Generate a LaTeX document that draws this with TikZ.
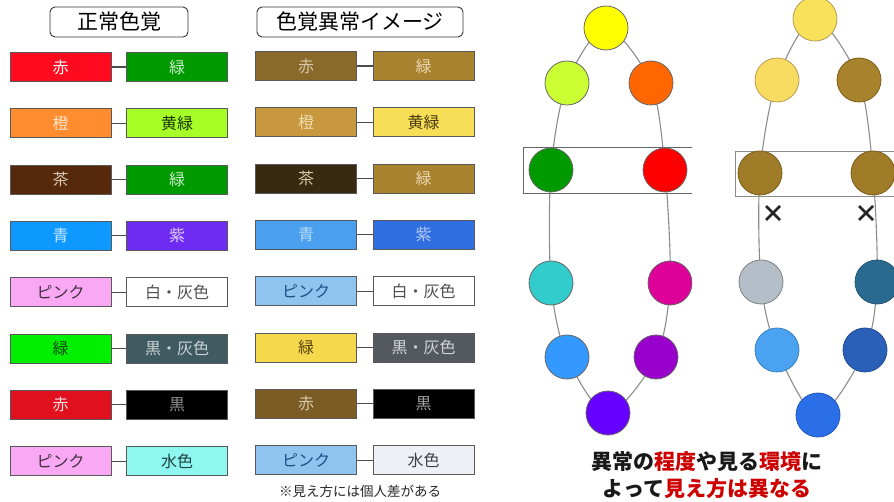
\documentclass[tikz,border=0pt]{standalone}
\usepackage{fontspec}
\setmainfont{Noto Sans CJK JP}
% box fills and text colours, left column (normal vision)
\definecolor{aRed}{HTML}{FF0A1E}\definecolor{aGreen}{HTML}{009A00}
\definecolor{aOrange}{HTML}{FF8C2E}\definecolor{aYG}{HTML}{A6FF26}
\definecolor{aBrown}{HTML}{55290A}\definecolor{aBlue}{HTML}{0D99FF}
\definecolor{aPurple}{HTML}{6E2CF2}\definecolor{aPink}{HTML}{F9A8F4}
\definecolor{aLime}{HTML}{00F000}\definecolor{aSlate}{HTML}{3F5A60}
\definecolor{aRed2}{HTML}{E0101E}\definecolor{aAqua}{HTML}{8EF8F0}
\definecolor{tGreenL}{HTML}{C8EEC8}\definecolor{tOrangeL}{HTML}{FFE6CC}
\definecolor{tDarkG}{HTML}{1A3300}\definecolor{tBrownL}{HTML}{D8C8B8}
\definecolor{tBlueL}{HTML}{CCE8FF}\definecolor{tPurpL}{HTML}{E0D0FF}
\definecolor{tPinkD}{HTML}{403040}\definecolor{tGray}{HTML}{505050}
\definecolor{tLimeD}{HTML}{0A4A0A}\definecolor{tSlateL}{HTML}{C8D0D4}
\definecolor{tRedL}{HTML}{FFE0E0}\definecolor{tBlackL}{HTML}{909090}
\definecolor{tAquaD}{HTML}{204040}
% right column (simulation)
\definecolor{bOlive}{HTML}{8A6A2A}\definecolor{bGold}{HTML}{A8822E}
\definecolor{bTan}{HTML}{C8983E}\definecolor{bYellow}{HTML}{F6DE56}
\definecolor{bDark}{HTML}{382A10}\definecolor{bBlue}{HTML}{4AA0EE}
\definecolor{bBlue2}{HTML}{2E6EE0}\definecolor{bSky}{HTML}{8EC4EE}
\definecolor{bYellow2}{HTML}{F6D84C}\definecolor{bSlate}{HTML}{54585F}
\definecolor{bOlive2}{HTML}{7A5C24}\definecolor{bPale}{HTML}{EEF0F6}
\definecolor{uBeige}{HTML}{D8C8A8}\definecolor{uBeige2}{HTML}{E8D8B0}
\definecolor{uBeige3}{HTML}{EEDDB0}\definecolor{uBrownD}{HTML}{4A3A10}
\definecolor{uBlueL}{HTML}{B8DCFA}\definecolor{uBlueL2}{HTML}{B8CCF8}
\definecolor{uNavy}{HTML}{1E4E88}\definecolor{uBrownD2}{HTML}{5A4410}
\definecolor{uGrayL}{HTML}{D0D4DA}\definecolor{uGrayM}{HTML}{A0A0A0}
\definecolor{uGrayD}{HTML}{404048}
% circles
\definecolor{cYellow}{HTML}{FFFF00}\definecolor{cYG}{HTML}{CCFF33}
\definecolor{cOrange}{HTML}{FF6600}\definecolor{cGreen}{HTML}{009900}
\definecolor{cRed}{HTML}{FF0000}\definecolor{cCyan}{HTML}{33CCCC}
\definecolor{cMagenta}{HTML}{DD0099}\definecolor{cBlue}{HTML}{3399FF}
\definecolor{cPurple}{HTML}{9900CC}\definecolor{cViolet}{HTML}{6600FF}
\definecolor{dYellow}{HTML}{F8E25A}\definecolor{dYellow2}{HTML}{F8DC62}
\definecolor{dBrown}{HTML}{A8822C}\definecolor{dBrown2}{HTML}{A07C28}
\definecolor{dBrown3}{HTML}{987424}\definecolor{dGray}{HTML}{B4BEC8}
\definecolor{dTeal}{HTML}{2A6A90}\definecolor{dSky}{HTML}{4AA2F0}
\definecolor{dNavy}{HTML}{2A60B8}\definecolor{dBlue}{HTML}{2A6EE8}
\definecolor{emph}{HTML}{CC0000}
\begin{document}
\begin{tikzpicture}[x=1pt,y=-1pt,
  cbox/.style={draw=black!65, line width=0.9pt, minimum width=101pt,
    minimum height=29pt, inner sep=0pt, font=\fontsize{16}{16}\selectfont},
  titlebox/.style={draw=black!80, rounded corners=5pt, line width=0.9pt,
    minimum height=30pt, inner sep=0pt, font=\fontsize{21}{21}\selectfont},
  link/.style={draw=black!70, line width=1.1pt},
  dot/.style={circle, draw=black!60, line width=0.8pt, minimum size=44pt, inner sep=0pt},
  ring/.style={draw=black!45, line width=1.1pt},
  band/.style={draw=black!60, line width=1pt},
  xmark/.style={draw=black!85, line width=2.5pt}
]
\useasboundingbox (0,0) rectangle (894,502);

% titles
\node[titlebox, minimum width=138pt] (t1) at (119,22) {正常色覚};
\node[titlebox, minimum width=206pt] (t2) at (360,22) {色覚異常イメージ};

% left column: normal vision
\foreach \i/\fa/\ta/\ca/\fb/\tb/\cb in {
  1/aRed/赤/white/aGreen/緑/tGreenL,
  2/aOrange/橙/tOrangeL/aYG/黄緑/tDarkG,
  3/aBrown/茶/tBrownL/aGreen/緑/tGreenL,
  4/aBlue/青/tBlueL/aPurple/紫/tPurpL,
  5/aPink/ピンク/tPinkD/white/白・灰色/tGray,
  6/aLime/緑/tLimeD/aSlate/黒・灰色/tSlateL,
  7/aRed2/赤/tRedL/black/黒/tBlackL,
  8/aPink/ピンク/tPinkD/aAqua/水色/tAquaD}{
  \pgfmathsetmacro{\yy}{67+56.3*(\i-1)}
  \node[cbox, fill=\fa, text=\ca] (na\i) at (60.5,\yy) {\ta};
  \node[cbox, fill=\fb, text=\cb] (nb\i) at (177,\yy) {\tb};
  \draw[link] (na\i) -- (nb\i);
}

% right column: simulated
\foreach \i/\fa/\ta/\ca/\fb/\tb/\cb in {
  1/bOlive/赤/uBeige/bGold/緑/uBeige2,
  2/bTan/橙/uBeige3/bYellow/黄緑/uBrownD,
  3/bDark/茶/uBeige/bGold/緑/uBeige2,
  4/bBlue/青/uBlueL/bBlue2/紫/uBlueL2,
  5/bSky/ピンク/uNavy/white/白・灰色/tGray,
  6/bYellow2/緑/uBrownD2/bSlate/黒・灰色/uGrayL,
  7/bOlive2/赤/uBeige/black/黒/uGrayM,
  8/bSky/ピンク/uNavy/bPale/水色/uGrayD}{
  \pgfmathsetmacro{\yy}{66+56.3*(\i-1)}
  \node[cbox, fill=\fa, text=\ca] (sa\i) at (306,\yy) {\ta};
  \node[cbox, fill=\fb, text=\cb] (sb\i) at (423.5,\yy) {\tb};
  \draw[link] (sa\i) -- (sb\i);
}

\node[font=\fontsize{13.5}{13.5}\selectfont, text=black!85] (note) at (360,491) {※見え方には個人差がある};

% left hue circle (normal)
\begin{scope}
\clip (500,0) rectangle (692,440);
\coordinate (p1) at (606,28);
\coordinate (p2) at (651,83);
\coordinate (p3) at (665,170);
\coordinate (p4) at (670,283);
\coordinate (p5) at (656,357);
\coordinate (p6) at (608,413);
\coordinate (p7) at (567,357);
\coordinate (p8) at (551,283);
\coordinate (p9) at (551,170);
\coordinate (p10) at (567,83);
\draw[ring] plot[smooth cycle, tension=0.5] coordinates {(p1) (p2) (p3) (p4) (p5) (p6) (p7) (p8) (p9) (p10)};
\draw[band] (523,148) rectangle (720,194);
\node[dot, fill=cYellow] (ny) at (p1) {};
\node[dot, fill=cOrange] (nor) at (p2) {};
\node[dot, fill=cRed] (nrd) at (p3) {};
\node[dot, fill=cMagenta] (nmg) at (p4) {};
\node[dot, fill=cPurple] (npu) at (p5) {};
\node[dot, fill=cViolet] (nvi) at (p6) {};
\node[dot, fill=cBlue] (nbl) at (p7) {};
\node[dot, fill=cCyan] (ncy) at (p8) {};
\node[dot, fill=cGreen] (ngr) at (p9) {};
\node[dot, fill=cYG] (nyg) at (p10) {};
\end{scope}

% right hue circle (simulated)
\coordinate (q1) at (815,19);
\coordinate (q2) at (859,80);
\coordinate (q3) at (873,173);
\coordinate (q4) at (877,282);
\coordinate (q5) at (865,350);
\coordinate (q6) at (818,415);
\coordinate (q7) at (777,350);
\coordinate (q8) at (761,282);
\coordinate (q9) at (760,173);
\coordinate (q10) at (777,80);
\draw[ring] plot[smooth cycle, tension=0.5] coordinates {(q1) (q2) (q3) (q4) (q5) (q6) (q7) (q8) (q9) (q10)};
\draw[band, draw=black!45] (735,152) rectangle (900,197);
\node[dot, fill=dYellow, draw=dBrown!80] (my) at (q1) {};
\node[dot, fill=dBrown, draw=dBrown3!80!black] (mor) at (q2) {};
\node[dot, fill=dBrown2, draw=dBrown3!80!black] (mrd) at (q3) {};
\node[dot, fill=dTeal, draw=dTeal!80!black] (mmg) at (q4) {};
\node[dot, fill=dNavy, draw=dNavy!80!black] (mpu) at (q5) {};
\node[dot, fill=dBlue, draw=dBlue!80!black] (mvi) at (q6) {};
\node[dot, fill=dSky, draw=dSky!80!black] (mbl) at (q7) {};
\node[dot, fill=dGray, draw=black!50] (mcy) at (q8) {};
\node[dot, fill=dBrown2, draw=dBrown3!80!black] (mgr) at (q9) {};
\node[dot, fill=dYellow2, draw=dBrown!80] (myg) at (q10) {};

% cross marks
\coordinate (x1) at (773,213);
\coordinate (x2) at (866,213);
\draw[xmark] ([shift={(-7,-7)}]x1) -- ([shift={(7,7)}]x1) ([shift={(-7,7)}]x1) -- ([shift={(7,-7)}]x1);
\draw[xmark] ([shift={(-7,-7)}]x2) -- ([shift={(7,7)}]x2) ([shift={(-7,7)}]x2) -- ([shift={(7,-7)}]x2);

% caption
\node[font=\bfseries\fontsize{21}{27}\selectfont, align=center, text=black!90] (cap) at (707,475)
  {異常の\textcolor{emph}{程度}や見る\textcolor{emph}{環境}に\\よって\textcolor{emph}{見え方は異なる}};
\end{tikzpicture}
\end{document}
